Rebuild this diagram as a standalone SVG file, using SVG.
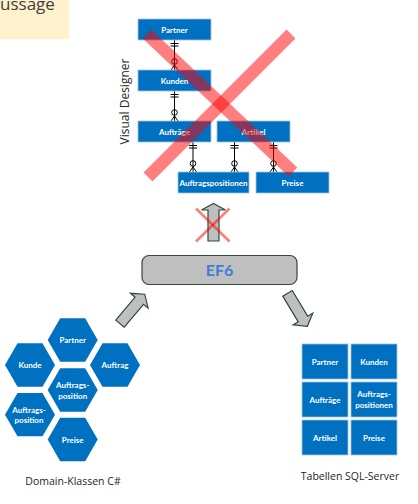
<svg xmlns="http://www.w3.org/2000/svg" width="418" height="504" viewBox="0 0 418 504">
<style>
.box{fill:#0070C0;stroke:#9DC3E6;stroke-width:0.8}
.lbl{font-family:Lato,"Liberation Sans",sans-serif;font-weight:bold;font-size:8px;fill:#fff;text-anchor:middle}
.cap{font-family:"Open Sans","Liberation Sans",sans-serif;fill:#262626;text-anchor:middle}
.rel line,.rel path,.rel circle{stroke:#000;stroke-width:1;fill:none}
.arr{fill:#BFBFBF;stroke:#2E4D36;stroke-width:1.2;stroke-linejoin:miter}
.hex{fill:#0070C0}
.x{stroke:#FF0000;stroke-opacity:0.5;fill:none}
</style>
<defs>
<g id="rel" class="rel">
<line x1="0" y1="0" x2="0" y2="30"/>
<line x1="-4" y1="3.5" x2="4" y2="3.5"/>
<line x1="-4" y1="6" x2="4" y2="6"/>
<circle cx="0" cy="21.5" r="2.8"/>
<path d="M-3.5,30 L0,25 L3.5,30"/>
</g>
<path id="darr" d="M0,-5.5 H30 V-11.5 L38.5,0 L30,11.5 V5.5 H0 Z"/>
<polygon id="hx" points="-25,0 -12.5,-21.65 12.5,-21.65 25,0 12.5,21.65 -12.5,21.65"/>
</defs>

<g id="title">
<rect x="0" y="0" width="69" height="39" fill="#FFF2CC"/>
<text x="0" y="10" font-family="Open Sans,Liberation Sans,sans-serif" font-size="17" fill="#404040">ussage</text>
</g>

<g id="visual-designer-label">
<text class="cap" font-size="12" transform="translate(128.5,101.5) rotate(-90)">Visual Designer</text>
</g>

<g id="connectors">
<use href="#rel" x="174.5" y="40"/>
<use href="#rel" x="174.5" y="91"/>
<use href="#rel" x="193" y="142"/>
<use href="#rel" x="234.5" y="142"/>
<use href="#rel" x="273.5" y="142"/>
</g>

<g id="partner"><rect class="box" x="138" y="19" width="73" height="21"/><text class="lbl" x="174.5" y="32.5">Partner</text></g>
<g id="kunden"><rect class="box" x="138" y="70" width="73" height="21"/><text class="lbl" x="174.5" y="83.5">Kunden</text></g>
<g id="auftraege"><rect class="box" x="138" y="121" width="73" height="21"/><text class="lbl" x="174.5" y="134.5">Aufträge</text></g>
<g id="artikel"><rect class="box" x="217" y="121" width="73" height="21"/><text class="lbl" x="253.5" y="134.5">Artikel</text></g>
<g id="auftragspositionen"><rect class="box" x="178" y="172" width="71" height="21"/><text class="lbl" x="213.5" y="185.5">Auftragspositionen</text></g>
<g id="preise"><rect class="box" x="256" y="172" width="73" height="21"/><text class="lbl" x="292.5" y="185.5">Preise</text></g>

<g id="big-cross">
<line class="x" stroke-width="12.5" x1="147" y1="34" x2="293" y2="172"/>
<line class="x" stroke-width="12.5" x1="291" y1="34" x2="148" y2="177"/>
</g>

<g id="up-arrow">
<path class="arr" d="M208,241 V210 H201.5 L213.5,203.5 L225.5,210 H219 V241 Z"/>
<line class="x" stroke-width="2.6" x1="196" y1="208.5" x2="229.5" y2="241.5"/>
<line class="x" stroke-width="2.6" x1="229.5" y1="208.5" x2="196" y2="241.5"/>
</g>

<g id="ef6">
<rect x="142" y="255.5" width="155" height="29" rx="7" fill="#BFBFBF" stroke="#2E4D36" stroke-width="1.2"/>
<text x="219.5" y="276" font-family="Lato,Liberation Sans,sans-serif" font-weight="bold" font-size="16" fill="#3C7DD9" text-anchor="middle">EF6</text>
</g>

<g id="arrow-left"><use href="#darr" class="arr" transform="translate(120,323.7) rotate(-50)"/></g>
<g id="arrow-right"><use href="#darr" class="arr" transform="translate(287.5,293.3) rotate(59)"/></g>

<g id="domain-classes">
<g id="hex-partner"><use href="#hx" class="hex" x="72.7" y="340"/><text class="lbl" x="72.7" y="343">Partner</text></g>
<g id="hex-kunde"><use href="#hx" class="hex" x="30" y="365"/><text class="lbl" x="30" y="368">Kunde</text></g>
<g id="hex-auftrag"><use href="#hx" class="hex" x="115" y="365"/><text class="lbl" x="115" y="368">Auftrag</text></g>
<g id="hex-auftragsposition-1"><use href="#hx" class="hex" x="72.7" y="390"/><text class="lbl" x="72.7" y="388">Auftrags-</text><text class="lbl" x="72.7" y="398.5">position</text></g>
<g id="hex-auftragsposition-2"><use href="#hx" class="hex" x="30" y="414.7"/><text class="lbl" x="29" y="412.5">Auftrags-</text><text class="lbl" x="29" y="423">position</text></g>
<g id="hex-preise"><use href="#hx" class="hex" x="72.7" y="439.5"/><text class="lbl" x="72.7" y="442.5">Preise</text></g>
<text class="cap" font-size="10.5" x="73" y="485">Domain-Klassen C#</text>
</g>

<g id="sql-tables">
<g id="t-partner"><rect class="box" x="302" y="344" width="46" height="35"/><text class="lbl" x="325" y="364.5">Partner</text></g>
<g id="t-kunden"><rect class="box" x="351" y="344" width="46" height="35"/><text class="lbl" x="374" y="364.5">Kunden</text></g>
<g id="t-auftraege"><rect class="box" x="302" y="382" width="46" height="35"/><text class="lbl" x="325" y="402.5">Aufträge</text></g>
<g id="t-auftragspositionen"><rect class="box" x="351" y="382" width="46" height="35"/><text class="lbl" x="374" y="397">Auftrags-</text><text class="lbl" x="374" y="408">positionen</text></g>
<g id="t-artikel"><rect class="box" x="302" y="420" width="46" height="35"/><text class="lbl" x="325" y="440.5">Artikel</text></g>
<g id="t-preise"><rect class="box" x="351" y="420" width="46" height="35"/><text class="lbl" x="374" y="440.5">Preise</text></g>
<text class="cap" font-size="10.5" x="350" y="480">Tabellen SQL-Server</text>
</g>
</svg>
